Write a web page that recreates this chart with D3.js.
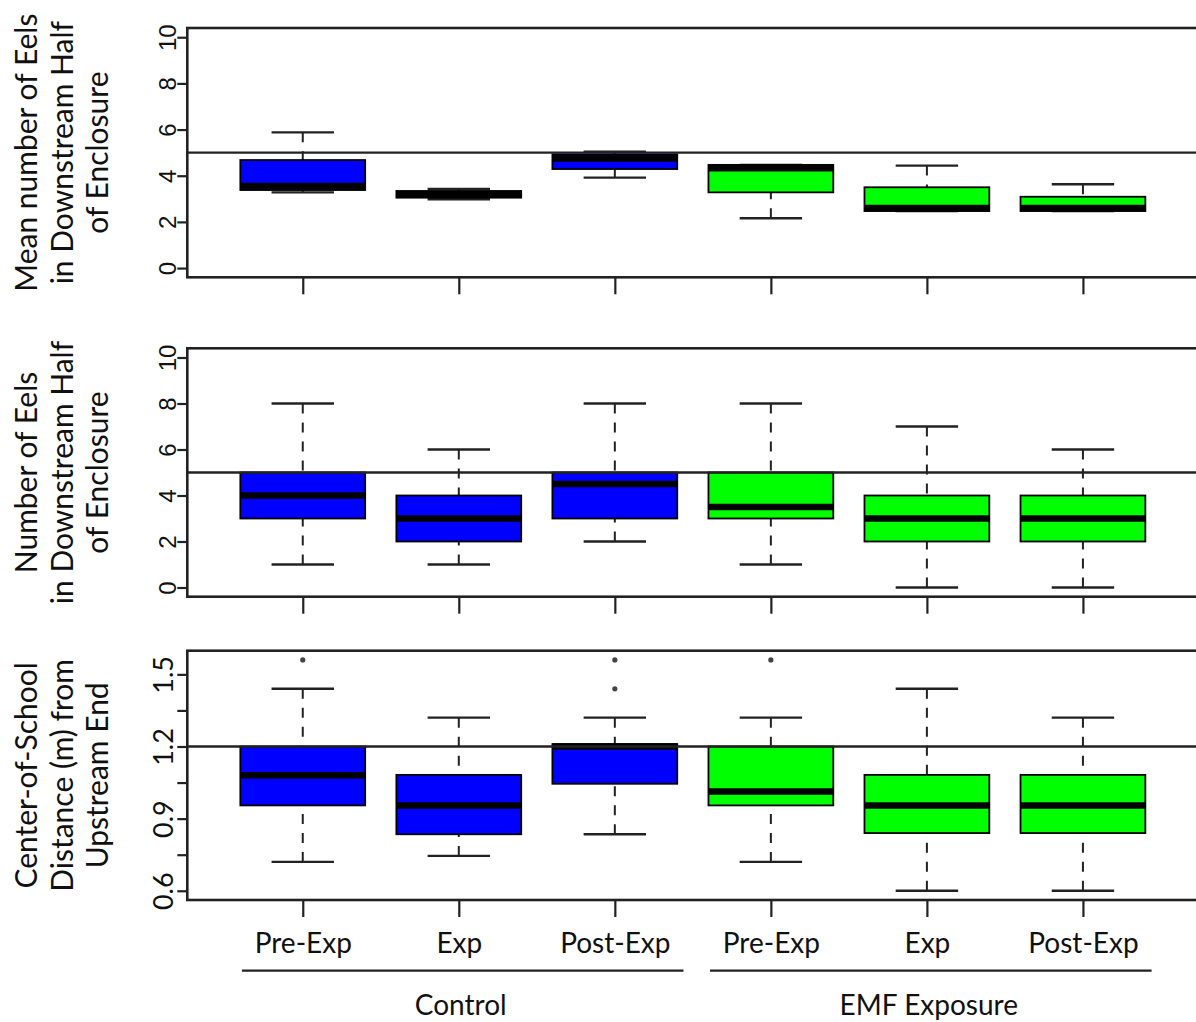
<!DOCTYPE html>
<html><head><meta charset="utf-8">
<script src="https://cdn.jsdelivr.net/npm/d3@7"></script>
<style>body{margin:0;background:#fff}svg{display:block}</style>
</head><body>
<svg id="c" width="1196" height="1022"></svg>
<script>
// ---------- data ----------
const categories = ["Pre-Exp", "Exp", "Post-Exp", "Pre-Exp", "Exp", "Post-Exp"];
const groupNames = ["Control", "EMF Exposure"];
const groupIndex = [0, 0, 0, 1, 1, 1];
const groupColors = ["#0000FF", "#00FF00"];

// Panel 1: mean number of eels in downstream half
const meanLow = [3.28, 2.98, 3.92, 2.16, 2.47, 2.47];
const meanQ1 = [3.38, 3.05, 4.29, 3.28, 2.47, 2.47];
const meanMed = [3.56, 3.2, 4.75, 4.32, 2.6, 2.6];
const meanQ3 = [4.68, 3.34, 4.93, 4.47, 3.5, 3.09];
const meanHigh = [5.88, 3.43, 5.04, 4.47, 4.44, 3.63];
const meanOut = [[], [], [], [], [], []];
const meanTicks = [0, 2, 4, 6, 8, 10];
const meanTickLabels = ["0", "2", "4", "6", "8", "10"];

// Panel 2: number of eels in downstream half
const countLow = [1, 1, 2, 1, 0, 0];
const countQ1 = [3, 2, 3, 3, 2, 2];
const countMed = [4, 3, 4.5, 3.5, 3, 3];
const countQ3 = [5, 4, 5, 5, 4, 4];
const countHigh = [8, 6, 8, 8, 7, 6];
const countOut = [[], [], [], [], [], []];
const countTicks = [0, 2, 4, 6, 8, 10];
const countTickLabels = ["0", "2", "4", "6", "8", "10"];

// Panel 3: center-of-school distance (m) from upstream end
const distLow = [0.72, 0.745, 0.835, 0.72, 0.6, 0.6];
const distQ1 = [0.955, 0.835, 1.045, 0.955, 0.84, 0.84];
const distMed = [1.08, 0.955, 1.2, 1.013, 0.955, 0.955];
const distQ3 = [1.2, 1.082, 1.21, 1.2, 1.082, 1.082];
const distHigh = [1.44, 1.32, 1.32, 1.32, 1.44, 1.32];
const distOut = [[1.56], [], [1.56, 1.44], [1.56], [], []];
const distTicks = [0.6, 0.75, 0.9, 1.05, 1.2, 1.35, 1.5];
const distTickLabels = ["0.6", "", "0.9", "", "1.2", "", "1.5"];

const titleMean = ["Mean number of Eels", "in Downstream Half", "of Enclosure"];
const titleCount = ["Number of Eels", "in Downstream Half", "of Enclosure"];
const titleDist = ["Center-of-School", "Distance (m) from", "Upstream End"];
const refMean = 5, refCount = 5, refDist = 1.2;

// ---------- layout ----------
const panels = [
  {low: meanLow, q1: meanQ1, med: meanMed, q3: meanQ3, high: meanHigh, out: meanOut,
   ticks: meanTicks, tickLabels: meanTickLabels, title: titleMean, ref: refMean,
   domain: [-0.4, 10.4], top: 28, bottom: 277.3, tickFont: "'Liberation Sans', Arial, sans-serif", tickSize: 24, tickOff: 11},
  {low: countLow, q1: countQ1, med: countMed, q3: countQ3, high: countHigh, out: countOut,
   ticks: countTicks, tickLabels: countTickLabels, title: titleCount, ref: refCount,
   domain: [-0.4, 10.4], top: 348.3, bottom: 596.7, tickFont: "'Liberation Sans', Arial, sans-serif", tickSize: 24, tickOff: 11},
  {low: distLow, q1: distQ1, med: distMed, q3: distQ3, high: distHigh, out: distOut,
   ticks: distTicks, tickLabels: distTickLabels, title: titleDist, ref: refDist,
   domain: [0.5616, 1.5984], top: 650.7, bottom: 900, tickFont: "Lato, sans-serif", tickSize: 27, tickOff: 14}
];

const svg = d3.select("#c");
const positions = categories.map((d, i) => i + 1);
const x = d3.scaleLinear().domain([0.26, 6.74]).range([187.3, 1198.4]);
const unit = x(1) - x(0);
const lineCol = "#222";
const textFont = "Lato, 'Open Sans', sans-serif";

panels.forEach((p, pi) => {
  const y = d3.scaleLinear().domain(p.domain).range([p.bottom, p.top]);
  const g = svg.append("g");
  const boxes = g.selectAll("g.box").data(positions).join("g").attr("class", "box");

  // whiskers (dashed)
  boxes.append("line")
    .attr("x1", d => x(d)).attr("x2", d => x(d))
    .attr("y1", (d, i) => y(p.high[i])).attr("y2", (d, i) => y(p.q3[i]))
    .attr("stroke", lineCol).attr("stroke-width", 2).attr("stroke-dasharray", "10,9");
  boxes.append("line")
    .attr("x1", d => x(d)).attr("x2", d => x(d))
    .attr("y1", (d, i) => y(p.low[i])).attr("y2", (d, i) => y(p.q1[i]))
    .attr("stroke", lineCol).attr("stroke-width", 2).attr("stroke-dasharray", "10,9");
  // caps
  boxes.append("line")
    .attr("x1", d => x(d - 0.2)).attr("x2", d => x(d + 0.2))
    .attr("y1", (d, i) => y(p.high[i])).attr("y2", (d, i) => y(p.high[i]))
    .attr("stroke", lineCol).attr("stroke-width", 2.4);
  boxes.append("line")
    .attr("x1", d => x(d - 0.2)).attr("x2", d => x(d + 0.2))
    .attr("y1", (d, i) => y(p.low[i])).attr("y2", (d, i) => y(p.low[i]))
    .attr("stroke", lineCol).attr("stroke-width", 2.4);
  // box
  boxes.append("rect")
    .attr("x", d => x(d - 0.4)).attr("width", 0.8 * unit)
    .attr("y", (d, i) => y(p.q3[i]))
    .attr("height", (d, i) => Math.max(0.5, y(p.q1[i]) - y(p.q3[i])))
    .attr("fill", (d, i) => groupColors[groupIndex[i]])
    .attr("stroke", "#000").attr("stroke-width", 1.8);
  // median
  boxes.append("line")
    .attr("x1", d => x(d - 0.4)).attr("x2", d => x(d + 0.4))
    .attr("y1", (d, i) => y(p.med[i])).attr("y2", (d, i) => y(p.med[i]))
    .attr("stroke", "#000").attr("stroke-width", 6.5);
  // outliers
  boxes.each(function(d, i) {
    d3.select(this).selectAll("circle").data(p.out[i]).join("circle")
      .attr("cx", x(d)).attr("cy", v => y(v)).attr("r", 2.6).attr("fill", "#444");
  });

  // reference line
  g.append("line")
    .attr("x1", x.range()[0]).attr("x2", x.range()[1])
    .attr("y1", y(p.ref)).attr("y2", y(p.ref))
    .attr("stroke", lineCol).attr("stroke-width", 2.4);

  // frame
  g.append("rect")
    .attr("x", x.range()[0]).attr("y", p.top)
    .attr("width", x.range()[1] - x.range()[0]).attr("height", p.bottom - p.top)
    .attr("fill", "none").attr("stroke", lineCol).attr("stroke-width", 2.6);

  // y axis
  const ya = g.append("g").attr("transform", `translate(${x.range()[0]},0)`)
    .call(d3.axisLeft(y).tickValues(p.ticks).tickSize(10).tickSizeOuter(0)
      .tickFormat((d, i) => p.tickLabels[i]));
  ya.select(".domain").remove();
  ya.selectAll(".tick line").attr("stroke", lineCol).attr("stroke-width", 2.2);
  ya.selectAll(".tick text")
    .attr("x", null).attr("dy", null)
    .attr("transform", `translate(${-p.tickOff},0) rotate(-90)`)
    .attr("text-anchor", "middle")
    .attr("font-family", p.tickFont).attr("font-size", p.tickSize).attr("fill", "#111");

  // x axis ticks
  const isBottom = pi === panels.length - 1;
  const xa = g.append("g").attr("transform", `translate(0,${p.bottom})`)
    .call(d3.axisBottom(x).tickValues(positions).tickSize(17).tickSizeOuter(0)
      .tickFormat((d, i) => isBottom ? categories[i] : ""));
  xa.select(".domain").remove();
  xa.selectAll(".tick line").attr("stroke", lineCol).attr("stroke-width", 2.2);
  xa.selectAll(".tick text").attr("y", 53).attr("dy", null)
    .attr("font-family", textFont).attr("font-size", 28).attr("fill", "#111");

  // y title
  const cy = (p.top + p.bottom) / 2;
  const baseX = [37, 72.5, 108];
  p.title.forEach((t, li) => {
    svg.append("text")
      .attr("transform", `translate(${baseX[li]},${cy}) rotate(-90)`)
      .attr("text-anchor", "middle")
      .attr("font-family", textFont).attr("font-size", 30).attr("fill", "#111")
      .text(t);
  });
});

// group labels under bottom panel
groupNames.forEach((gname, gi) => {
  const idx = positions.filter((d, i) => groupIndex[i] === gi);
  const x0 = x(d3.min(idx) - 0.39), x1 = x(d3.max(idx) + 0.44);
  svg.append("line").attr("x1", x0).attr("x2", x1).attr("y1", 970.7).attr("y2", 970.7)
    .attr("stroke", lineCol).attr("stroke-width", 2.2);
  svg.append("text").attr("x", (x0 + x1) / 2 - 2).attr("y", 1015)
    .attr("text-anchor", "middle").attr("font-family", textFont).attr("font-size", 28)
    .attr("fill", "#111").text(gname);
});
</script>
</body></html>
